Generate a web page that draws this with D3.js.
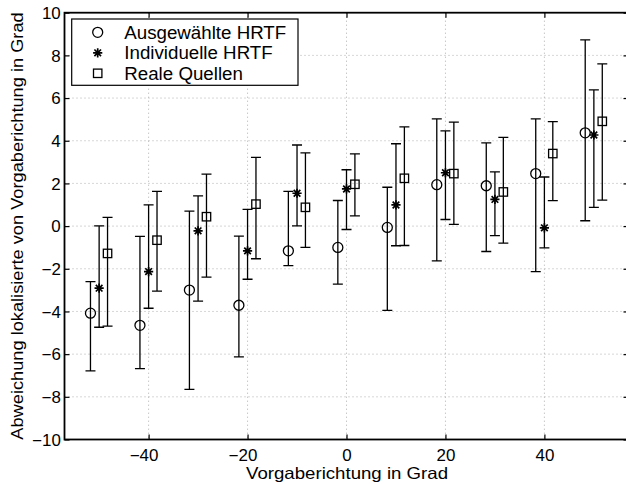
<!DOCTYPE html>
<html><head><meta charset="utf-8">
<script src="https://cdn.jsdelivr.net/npm/d3@7"></script>
<style>
html,body{margin:0;padding:0;background:#fff;}
svg{display:block;}
text{font-family:"Liberation Sans",Arial,Helvetica,sans-serif;fill:#000;}
</style></head>
<body>
<svg id="chart" width="626" height="484"></svg>
<script>
// ---- data ----
const directions = [-50, -40, -30, -20, -10, 0, 10, 20, 30, 40, 50];
const seriesNames = ["Ausgewählte HRTF", "Individuelle HRTF", "Reale Quellen"];
const seriesOffsets = [-1.75, 0, 1.7];
const circleMean = [-4.08, -4.65, -3.0, -3.71, -1.16, -1.0, -0.06, 1.94, 1.89, 2.46, 4.37];
const circleLo   = [-6.78, -6.68, -7.65, -6.13, -1.85, -2.72, -3.95, -1.63, -1.19, -2.13, 0.25];
const circleHi   = [-2.6, -0.48, 0.70, -0.47, 1.63, 1.2, 1.82, 5.02, 3.9, 5.02, 8.73];
const starMean = [-2.91, -2.13, -0.22, -1.16, 1.54, 1.74, 0.99, 2.50, 1.25, -0.08, 4.27];
const starLo   = [-4.74, -3.85, -3.52, -2.49, 0.01, -0.16, -0.92, 0.31, -0.45, -1.02, 0.88];
const starHi   = [0.01, 0.99, 1.42, 0.78, 3.8, 2.64, 3.86, 4.46, 2.54, 2.3, 6.38];
const squareMean = [-1.28, -0.66, 0.44, 1.03, 0.88, 1.96, 2.24, 2.46, 1.6, 3.4, 4.91];
const squareLo   = [-4.69, -3.05, -2.39, -1.53, -1.0, 0.48, -0.91, 0.08, -0.8, 1.19, 1.22];
const squareHi   = [0.41, 1.63, 2.44, 3.22, 3.43, 3.38, 4.65, 4.87, 4.16, 4.9, 7.6];
const xTicks = [-40, -20, 0, 20, 40];
const yTicks = [-10, -8, -6, -4, -2, 0, 2, 4, 6, 8, 10];
const xLabel = "Vorgaberichtung in Grad";
const yLabel = "Abweichung lokalisierte von Vorgaberichtung in Grad";

// ---- layout ----
const L = 64.5, R = 628.5, T = 12.7, B = 439.5;
const svg = d3.select("#chart");
const x = d3.scaleLinear().domain([-57, 57]).range([L, R]);
const y = d3.scaleLinear().domain([-10, 10]).range([B, T]);

// grid
const grid = svg.append("g").attr("stroke", "#9a9a9a").attr("stroke-width", 0.8).attr("stroke-dasharray", "1,3");
grid.selectAll("line.gx").data(xTicks).join("line")
  .attr("x1", d => x(d)).attr("x2", d => x(d)).attr("y1", T).attr("y2", B);
grid.selectAll("line.gy").data(yTicks.filter(d => d > -10 && d < 10)).join("line")
  .attr("x1", L).attr("x2", R).attr("y1", d => y(d)).attr("y2", d => y(d));

// axes with inward ticks
const fs = 16;
const fmt = d => d < 0 ? "\u2212" + Math.abs(d) : d;
const axB = svg.append("g").attr("transform", `translate(0,${B})`)
  .call(d3.axisBottom(x).tickValues(xTicks).tickSizeInner(-5).tickSizeOuter(0).tickFormat(fmt));
const axT = svg.append("g").attr("transform", `translate(0,${T})`)
  .call(d3.axisTop(x).tickValues(xTicks).tickSizeInner(-5).tickSizeOuter(0).tickFormat(""));
const axL = svg.append("g").attr("transform", `translate(${L},0)`)
  .call(d3.axisLeft(y).tickValues(yTicks).tickSizeInner(-5).tickSizeOuter(0).tickFormat(fmt));
const axR = svg.append("g").attr("transform", `translate(${R},0)`)
  .call(d3.axisRight(y).tickValues(yTicks).tickSizeInner(-5).tickSizeOuter(0).tickFormat(""));
[axB, axT, axL, axR].forEach(a => {
  a.select(".domain").remove();
  a.selectAll(".tick line").attr("stroke", "#000").attr("stroke-width", 1.2);
  a.selectAll("text").attr("font-size", fs).attr("font-family", "Liberation Sans, Arial, sans-serif").attr("fill", "#000");
});
axB.selectAll(".tick text").attr("y", 0).attr("dy", 0).attr("transform", "translate(0,21.5) scale(1.06,1)")
  .attr("dx", d => d < 0 ? -4.8 : 0);
axL.selectAll(".tick text").attr("x", -3.5).attr("dy", "0.36em")
  .attr("transform", "scale(1.06,1)");

// box
svg.append("rect").attr("x", L).attr("y", T).attr("width", R - L).attr("height", B - T)
  .attr("fill", "none").attr("stroke", "#000").attr("stroke-width", 1.8);

// error bars + markers
const series = [
  {mean: circleMean, lo: circleLo, hi: circleHi, sym: "circle"},
  {mean: starMean, lo: starLo, hi: starHi, sym: "star"},
  {mean: squareMean, lo: squareLo, hi: squareHi, sym: "square"}
];
const capW = 5;
function drawMarker(g, sym, cx, cy) {
  if (sym === "circle") {
    g.append("circle").attr("cx", cx).attr("cy", cy).attr("r", 5).attr("fill", "none").attr("stroke", "#000").attr("stroke-width", 1.3);
  } else if (sym === "square") {
    g.append("rect").attr("x", cx - 4.2).attr("y", cy - 4.2).attr("width", 8.4).attr("height", 8.4).attr("fill", "none").attr("stroke", "#000").attr("stroke-width", 1.3);
  } else {
    const s = 4.6, d = s * 0.72;
    const p = `M${cx - s},${cy}L${cx + s},${cy}M${cx},${cy - s}L${cx},${cy + s}M${cx - d},${cy - d}L${cx + d},${cy + d}M${cx - d},${cy + d}L${cx + d},${cy - d}`;
    g.append("path").attr("d", p).attr("fill", "none").attr("stroke", "#000").attr("stroke-width", 1.7);
  }
}
series.forEach((s, si) => {
  const g = svg.append("g");
  directions.forEach((dir, i) => {
    const cx = x(dir + seriesOffsets[si]);
    const yl = y(s.lo[i]), yh = y(s.hi[i]), ym = y(s.mean[i]);
    g.append("path")
      .attr("d", `M${cx},${yl}L${cx},${yh}M${cx - capW},${yl}L${cx + capW},${yl}M${cx - capW},${yh}L${cx + capW},${yh}`)
      .attr("stroke", "#000").attr("stroke-width", 1.3).attr("fill", "none");
    drawMarker(g, s.sym, cx, ym);
  });
});

// legend
const lg = svg.append("g");
lg.append("rect").attr("x", 71.7).attr("y", 19).attr("width", 226.3).attr("height", 66.3)
  .attr("fill", "#fff").attr("stroke", "#000").attr("stroke-width", 1.2);
seriesNames.forEach((n, i) => {
  const cy = 32.3 + i * 20.5;
  drawMarker(lg, series[i].sym, 97.7, cy);
  lg.append("text").attr("transform", `translate(124.3,${cy + 6.3}) scale(1.07,1)`).attr("font-size", 17.5).text(n);
});

// labels
svg.append("text").attr("transform", `translate(347,479) scale(1.13,1)`).attr("text-anchor", "middle").attr("font-size", 16.5).text(xLabel);
svg.append("text").attr("transform", `translate(23,226) rotate(-90) scale(1.105,1)`).attr("text-anchor", "middle").attr("font-size", 16.5).text(yLabel);
</script>
</body></html>
